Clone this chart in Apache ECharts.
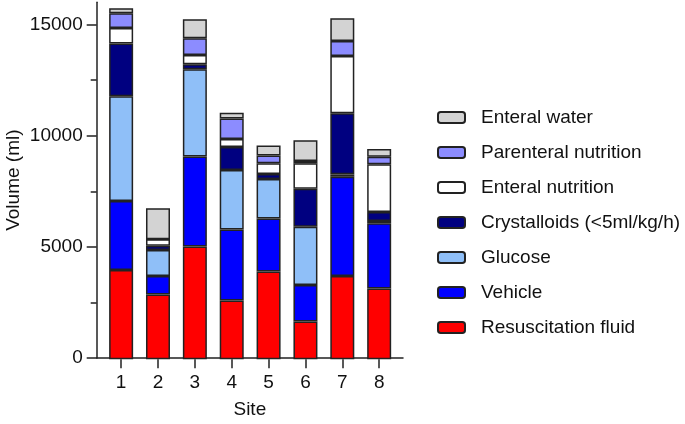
<!DOCTYPE html>
<html><head><meta charset="utf-8">
<script src="https://cdn.jsdelivr.net/npm/echarts@6/dist/echarts.min.js"></script>
<style>html,body{margin:0;padding:0;background:#fff}#c{width:685px;height:424px}</style>
</head><body><div id="c"></div>
<script>
const sites = ['1', '2', '3', '4', '5', '6', '7', '8'];
const resuscitation = [4000, 2900, 5050, 2640, 3930, 1690, 3730, 3170];
const vehicle = [3100, 835, 4035, 3180, 2375, 1640, 4450, 2930];
const glucose = [4690, 1165, 3915, 2660, 1780, 2615, 110, 100];
const crystalloids = [2360, 193, 224, 1030, 224, 1700, 2735, 400];
const enteralNutrition = [700, 287, 419, 360, 478, 1136, 2570, 2140];
const parenteralNutrition = [660, 0, 747, 927, 344, 110, 672, 343];
const enteralWater = [220, 1390, 852, 254, 448, 926, 1017, 343];
const yTicks = [0, 5000, 10000, 15000];
const yMinorTicks = [2500, 7500, 12500];

const seriesDefs = [
  ['Resuscitation fluid', resuscitation, '#FF0000'],
  ['Vehicle', vehicle, '#0000FF'],
  ['Glucose', glucose, '#8FBFF8'],
  ['Crystalloids (<5ml/kg/h)', crystalloids, '#000080'],
  ['Enteral nutrition', enteralNutrition, '#FFFFFF'],
  ['Parenteral nutrition', parenteralNutrition, '#8C8CFF'],
  ['Enteral water', enteralWater, '#D3D3D3']
];
const font = 'Liberation Sans, Arial, sans-serif';
const txt = '#111';
const axisCol = '#222';
const yMax = 16000;

const chart = echarts.init(document.getElementById('c'), null, {renderer: 'canvas'});
chart.setOption({
  animation: false,
  textStyle: {fontFamily: font},
  grid: [
    {left: 102.7, right: 287.4, top: 2.3, bottom: 64.7},
    {left: 96.7, right: 282, top: 2.3, bottom: 64.7}
  ],
  legend: {
    orient: 'vertical', left: 437, top: 108, padding: 0,
    itemWidth: 27, itemHeight: 11, itemGap: 16,
    data: seriesDefs.map(d => d[0]).reverse(),
    textStyle: {fontSize: 19, color: txt, fontFamily: font, padding: [0, 0, 0, 11]}
  },
  xAxis: [{
    type: 'category', gridIndex: 0, data: sites,
    axisLine: {show: false},
    axisTick: {show: true, alignWithLabel: true, length: 9, lineStyle: {color: axisCol, width: 1.5}},
    axisLabel: {fontSize: 19, color: txt, margin: 14, fontFamily: font},
    splitLine: {show: false}
  }, {
    type: 'value', gridIndex: 1, min: 0, max: 1,
    name: 'Site', nameLocation: 'middle', nameGap: 42,
    nameTextStyle: {fontSize: 19, color: txt, fontFamily: font},
    axisLine: {show: true, lineStyle: {color: axisCol, width: 1.5}},
    axisTick: {show: false}, axisLabel: {show: false}, splitLine: {show: false}
  }],
  yAxis: [{
    type: 'value', gridIndex: 0, min: 0, max: yMax, show: false
  }, {
    type: 'value', gridIndex: 1, min: 0, max: yMax,
    name: 'Volume (ml)', nameLocation: 'middle', nameGap: 73,
    nameTextStyle: {fontSize: 19, color: txt, fontFamily: font},
    axisLine: {show: true, lineStyle: {color: axisCol, width: 1.5}},
    axisTick: {show: true, length: 10, customValues: yTicks, lineStyle: {color: axisCol, width: 1.5}},
    axisLabel: {customValues: yTicks, fontSize: 19, color: txt, margin: 14, fontFamily: font,
      formatter: v => String(v)},
    splitLine: {show: false}
  }, {
    type: 'value', gridIndex: 1, min: 0, max: yMax, position: 'left',
    axisLine: {show: false},
    axisTick: {show: true, length: 6, customValues: yMinorTicks, lineStyle: {color: axisCol, width: 1.5}},
    axisLabel: {show: false},
    splitLine: {show: false}
  }],
  series: seriesDefs.map(([name, vals, color]) => ({
    name, type: 'bar', stack: 'total', barWidth: 24, xAxisIndex: 0, yAxisIndex: 0,
    data: vals,
    itemStyle: {color, borderColor: '#222', borderWidth: 1.5}
  }))
});
</script></body></html>
